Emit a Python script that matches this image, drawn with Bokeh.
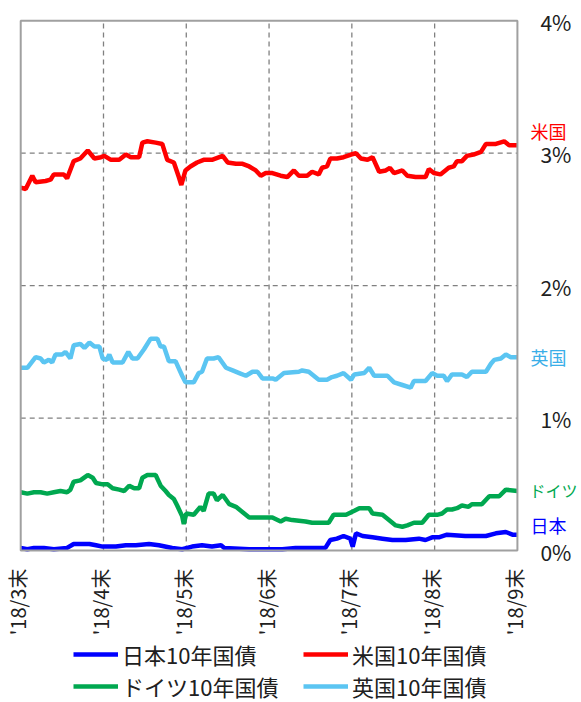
from bokeh.plotting import figure
from bokeh.models import Range1d, BoxAnnotation, Legend, LegendItem
from bokeh.core.properties import value
from bokeh.embed import file_html
from bokeh.resources import INLINE
import math

# x positions are in months after end of March 2018
tick_pos = [0, 1, 2, 3, 4, 5, 6]
tick_labels = ["'18/3末", "'18/4末", "'18/5末", "'18/6末", "'18/7末", "'18/8末", "'18/9末"]
y_ticks = [0, 1, 2, 3, 4]
y_labels = ["0%", "1%", "2%", "3%", "4%"]

us_x = [0, 0.06, 0.14, 0.18, 0.30, 0.36, 0.40, 0.52, 0.56, 0.64, 0.72, 0.81, 0.89, 0.97, 1.01, 1.09,
        1.19, 1.27, 1.33, 1.43, 1.47, 1.53, 1.63, 1.71, 1.77, 1.85, 1.91, 1.94, 1.99, 2.05, 2.13,
        2.21, 2.31, 2.44, 2.50, 2.60, 2.68, 2.76, 2.84, 2.90, 2.96, 3.04, 3.14, 3.22, 3.30, 3.36,
        3.46, 3.52, 3.60, 3.64, 3.70, 3.74, 3.82, 3.90, 3.99, 4.05, 4.11, 4.19, 4.25, 4.33, 4.41,
        4.46, 4.51, 4.61, 4.67, 4.77, 4.89, 4.93, 4.99, 5.07, 5.13, 5.17, 5.23, 5.27, 5.33, 5.39,
        5.47, 5.56, 5.62, 5.74, 5.84, 5.90, 6.00]
us_y = [2.74, 2.73, 2.83, 2.78, 2.79, 2.80, 2.84, 2.84, 2.81, 2.94, 2.96, 3.02, 2.96, 2.97, 2.98, 2.95,
        2.95, 2.99, 2.97, 2.97, 3.08, 3.09, 3.08, 3.07, 2.95, 2.93, 2.82, 2.76, 2.87, 2.90, 2.93,
        2.95, 2.95, 2.98, 2.93, 2.92, 2.92, 2.90, 2.87, 2.83, 2.85, 2.85, 2.83, 2.82, 2.87, 2.83,
        2.83, 2.86, 2.84, 2.89, 2.90, 2.96, 2.96, 2.97, 2.99, 3.00, 2.96, 2.95, 2.97, 2.86, 2.87,
        2.89, 2.85, 2.87, 2.83, 2.82, 2.82, 2.88, 2.85, 2.84, 2.87, 2.89, 2.90, 2.94, 2.94, 2.98,
        2.99, 3.01, 3.07, 3.07, 3.09, 3.06, 3.06]

uk_x = [0, 0.08, 0.18, 0.24, 0.28, 0.34, 0.38, 0.42, 0.50, 0.54, 0.60, 0.64, 0.72, 0.77, 0.83, 0.89,
        0.95, 0.99, 1.04, 1.07, 1.11, 1.23, 1.30, 1.35, 1.41, 1.49, 1.57, 1.65, 1.69, 1.73, 1.79,
        1.87, 1.95, 1.99, 2.09, 2.15, 2.19, 2.25, 2.33, 2.39, 2.48, 2.56, 2.64, 2.72, 2.80, 2.86,
        2.92, 3.04, 3.08, 3.18, 3.36, 3.40, 3.48, 3.60, 3.70, 3.76, 3.82, 3.90, 3.99, 4.03, 4.15,
        4.21, 4.27, 4.43, 4.51, 4.61, 4.71, 4.75, 4.89, 4.97, 5.03, 5.11, 5.15, 5.21, 5.33, 5.39,
        5.45, 5.62, 5.68, 5.72, 5.80, 5.86, 5.92, 6.00]
uk_y = [1.38, 1.38, 1.46, 1.45, 1.42, 1.44, 1.42, 1.48, 1.48, 1.50, 1.45, 1.55, 1.56, 1.53, 1.57, 1.54,
        1.54, 1.45, 1.44, 1.48, 1.42, 1.42, 1.50, 1.45, 1.45, 1.52, 1.60, 1.60, 1.54, 1.54, 1.43,
        1.43, 1.32, 1.27, 1.27, 1.34, 1.35, 1.45, 1.45, 1.46, 1.38, 1.36, 1.34, 1.32, 1.35, 1.35,
        1.30, 1.30, 1.29, 1.34, 1.35, 1.36, 1.35, 1.29, 1.29, 1.31, 1.32, 1.34, 1.29, 1.33, 1.34,
        1.38, 1.32, 1.32, 1.27, 1.25, 1.23, 1.28, 1.28, 1.34, 1.32, 1.32, 1.28, 1.33, 1.33, 1.31,
        1.35, 1.35, 1.41, 1.44, 1.45, 1.48, 1.46, 1.46]

de_x = [0, 0.08, 0.16, 0.24, 0.32, 0.40, 0.48, 0.56, 0.60, 0.64, 0.72, 0.81, 0.87, 0.91, 0.99, 1.05,
        1.11, 1.19, 1.25, 1.31, 1.37, 1.43, 1.47, 1.53, 1.63, 1.69, 1.75, 1.79, 1.85, 1.89, 1.95,
        1.97, 2.00, 2.09, 2.17, 2.21, 2.27, 2.33, 2.37, 2.44, 2.52, 2.60, 2.70, 2.76, 3.04, 3.14,
        3.20, 3.28, 3.44, 3.52, 3.72, 3.78, 3.93, 4.03, 4.09, 4.21, 4.25, 4.37, 4.43, 4.53, 4.61,
        4.67, 4.75, 4.85, 4.93, 5.03, 5.09, 5.15, 5.21, 5.27, 5.33, 5.41, 5.45, 5.57, 5.66, 5.78,
        5.86, 6.00]
de_y = [0.44, 0.43, 0.44, 0.44, 0.43, 0.44, 0.45, 0.44, 0.46, 0.52, 0.53, 0.57, 0.55, 0.51, 0.50, 0.50,
        0.47, 0.46, 0.45, 0.49, 0.47, 0.47, 0.55, 0.57, 0.57, 0.49, 0.45, 0.42, 0.39, 0.34, 0.26,
        0.20, 0.28, 0.27, 0.33, 0.30, 0.43, 0.43, 0.38, 0.42, 0.35, 0.33, 0.28, 0.25, 0.25, 0.22,
        0.24, 0.23, 0.22, 0.21, 0.21, 0.27, 0.27, 0.30, 0.32, 0.32, 0.28, 0.27, 0.24, 0.19, 0.18,
        0.19, 0.21, 0.21, 0.27, 0.27, 0.28, 0.31, 0.31, 0.32, 0.34, 0.33, 0.35, 0.35, 0.41, 0.41,
        0.46, 0.45]

jp_x = [0, 0.08, 0.16, 0.28, 0.40, 0.56, 0.64, 0.74, 0.83, 0.91, 0.99, 1.15, 1.27, 1.39, 1.55, 1.67,
        1.83, 1.95, 2.07, 2.19, 2.31, 2.42, 2.46, 2.76, 3.16, 3.32, 3.68, 3.74, 3.82, 3.90, 3.98,
        4.01, 4.05, 4.13, 4.25, 4.37, 4.49, 4.65, 4.81, 4.89, 4.97, 5.05, 5.15, 5.37, 5.62, 5.74,
        5.86, 5.94, 6.00]
jp_y = [0.02, 0.01, 0.02, 0.02, 0.01, 0.02, 0.05, 0.05, 0.05, 0.04, 0.03, 0.03, 0.04, 0.04, 0.05, 0.04,
        0.02, 0.01, 0.03, 0.04, 0.03, 0.04, 0.02, 0.01, 0.01, 0.02, 0.02, 0.08, 0.09, 0.11, 0.09,
        0.03, 0.13, 0.11, 0.10, 0.09, 0.08, 0.08, 0.09, 0.08, 0.10, 0.10, 0.12, 0.11, 0.11, 0.13,
        0.14, 0.12, 0.12]

series_names = ["日本10年国債", "米国10年国債", "ドイツ10年国債", "英国10年国債"]
side_names = ["日本", "米国", "英国"]
side_y = [0.19, 3.17, 1.46]
side_colors = ["#0000ff", "#ff0000", "#3aaee8"]
de_name, de_name_y, de_name_color = "ドイツ", 0.46, "#00a850"
colors = ["#0000ff", "#ff0000", "#00a850", "#5bc5f2"]

FONT = "Noto Sans CJK JP"
x0, x1 = tick_pos[0], tick_pos[-1]
y0, y1 = y_ticks[0], y_ticks[-1]

p = figure(frame_width=577, frame_height=695, output_backend="svg", toolbar_location=None,
           x_range=Range1d(-0.22, 6.75), y_range=Range1d(-1.147, 4.1),
           min_border_left=2, min_border_top=7, min_border_right=0, min_border_bottom=0,
           x_axis_location=None, y_axis_location=None)
p.outline_line_color = None
p.xgrid.visible = False
p.ygrid.visible = False

# dashed grid inside the plot box
inner_x = tick_pos[1:-1]
inner_y = y_ticks[1:-1]
grid_style = dict(line_color="#808080", line_width=1.3, line_dash="5 4")
p.segment(x0=inner_x, x1=inner_x, y0=[y0] * len(inner_x), y1=[y1] * len(inner_x), **grid_style)
p.segment(x0=[x0] * len(inner_y), x1=[x1] * len(inner_y), y0=inner_y, y1=inner_y, **grid_style)

p.add_layout(BoxAnnotation(left=x0, right=x1, bottom=y0, top=y1, fill_color=None,
                           line_color="#a0a0a0", line_width=2, line_alpha=1))

xs = [jp_x, us_x, de_x, uk_x]
ys = [jp_y, us_y, de_y, uk_y]
renderers = []
for x, y, c in zip(xs, ys, colors):
    renderers.append(p.line(x, y, line_color=c, line_width=4.5))

# percentage labels on the right
p.text(x=[x1] * len(y_ticks), y=y_ticks, text=y_labels, text_font=value(FONT),
       text_font_size="21px", text_color="#202020", text_baseline="middle",
       x_offset=23, y_offset=1)

# series names on the right
p.text(x=[x1] * len(side_names), y=side_y, text=side_names, text_color=side_colors,
       text_font=value(FONT), text_font_size="18px", text_baseline="middle", x_offset=13)
p.text(x=[x1], y=[de_name_y], text=[de_name], text_color=de_name_color,
       text_font=value(FONT), text_font_size="16px", text_baseline="middle", x_offset=12)

# month-end labels (rotated) under the box
p.text(x=tick_pos, y=[y0] * len(tick_pos), text=tick_labels, angle=math.pi / 2,
       text_font=value(FONT), text_font_size="20px", text_color="#202020",
       text_align="right", text_baseline="middle", x_offset=-3, y_offset=18)

legend = Legend(items=[LegendItem(label=n, renderers=[r]) for n, r in zip(series_names, renderers)],
                orientation="horizontal", ncols=2,
                label_text_font=FONT, label_text_font_size="22px", label_text_color="#202020",
                glyph_width=45, glyph_height=24, spacing=0, label_standoff=4, label_width=181,
                border_line_color=None, background_fill_alpha=0, location=(71, 0),
                margin=0, padding=0)
p.add_layout(legend, "center")

open("out.html", "w").write(file_html(p, INLINE))
